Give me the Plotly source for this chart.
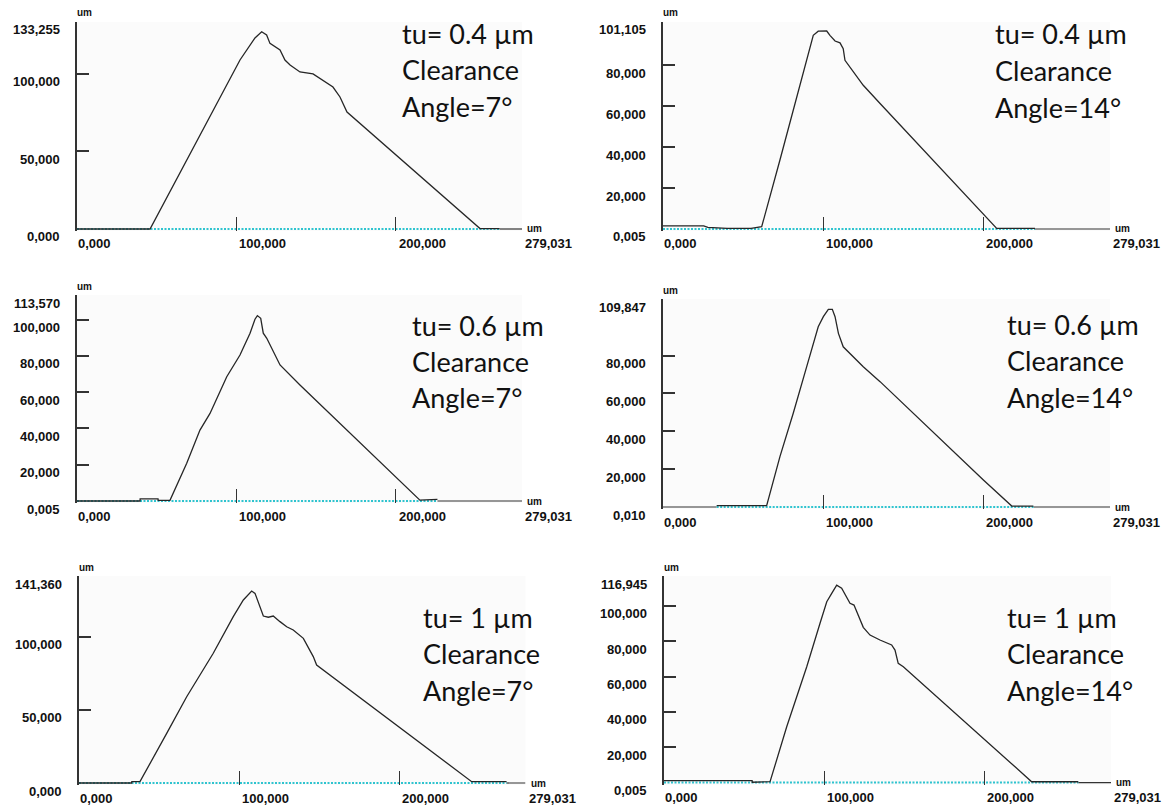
import plotly.graph_objects as go

W, H = 1171, 810
X_END = 279.031

# ---------------- data ----------------
# Panel A : tu = 0.4 um, clearance angle 7 deg
a_x = [0, 45.8, 102.2, 107.4, 111.6, 115.8, 118.9, 121.0, 124.1, 127.3, 130.4, 133.6,
       139.8, 148.0, 160.5, 164.9, 169.3, 252.7, 265.0]
a_y = [0, 0, 108.8, 116.3, 123.0, 127.0, 124.9, 119.5, 117.3, 115.2, 108.8, 105.6,
       101.1, 99.8, 91.4, 85.0, 75.3, 0.3, 0.3]
# Panel B : tu = 0.4 um, 14 deg
b_x = [0, 25.4, 28.0, 40.0, 55.0, 61.6, 73.0, 83.4, 90.7, 93.8, 96.9, 102.2, 104.2,
       107.4, 110.5, 112.5, 113.6, 116.7, 125.0, 135.5, 199.9, 208.3, 232.2]
b_y = [1.5, 1.5, 0.8, 0.3, 0.3, 1.1, 33.7, 64.5, 85.7, 94.6, 96.6, 96.7, 94.6,
       91.8, 90.9, 88.1, 82.4, 79.2, 70.2, 61.3, 7.7, 0.3, 0.3]
# Panel C : tu = 0.6 um, 7 deg
c_x = [0, 39.5, 39.6, 50.8, 50.9, 58.3, 68.8, 77.1, 83.4, 93.9, 102.2, 108.5, 111.6,
       113.1, 115.2, 116.8, 119.0, 127.3, 139.8, 215.0, 226.0]
c_y = [0.005, 0.005, 1.2, 1.2, 0.3, 0.4, 20.8, 39.1, 48.3, 68.5, 80.5, 92.5, 100.2,
       102.2, 100.7, 92.5, 89.7, 75.0, 64.0, 0.5, 0.9]
# Panel D : tu = 0.6 um, 14 deg
d_x = [33.5, 64.7, 73.0, 81.3, 89.7, 96.9, 100.1, 103.2, 105.7, 107.4, 109.5, 112.5,
       125.0, 135.5, 200.0, 217.7, 231.2]
d_y = [0.7, 0.7, 26.6, 49.5, 74.1, 95.2, 100.5, 104.4, 104.4, 100.5, 91.7, 84.6,
       74.1, 66.2, 14.3, 0.5, 0.5]
# Panel E : tu = 1 um, 7 deg
e_x = [0, 32.9, 33.0, 38.1, 54.8, 67.3, 83.9, 96.4, 102.7, 107.9, 110.0, 113.1, 115.2,
       118.3, 121.4, 125.6, 129.8, 133.9, 140.2, 146.4, 148.5, 245.4, 267.2]
e_y = [0, 0, 0.9, 0.9, 33.9, 58.9, 88.6, 113.6, 125.0, 131.1, 129.5, 120.4, 114.0,
       113.2, 114.0, 110.2, 106.7, 104.5, 98.8, 86.3, 80.6, 0.9, 0.9]
# Panel F : tu = 1 um, 14 deg
f_x = [0, 55.0, 55.1, 66.2, 76.6, 89.1, 97.4, 101.6, 104.7, 107.8, 110.9, 114.0, 116.1,
       118.6, 121.3, 124.4, 128.6, 134.8, 142.1, 144.2, 146.2, 149.4, 229.5, 258.6]
f_y = [1.1, 1.1, 0.2, 0.5, 31.6, 65.6, 90.2, 102.4, 107.1, 111.8, 110.0, 105.2, 101.5,
       100.5, 94.9, 87.9, 83.5, 80.7, 77.9, 75.0, 67.5, 65.6, 0.5, 0.5]

y_min = [0.0, 0.005, 0.005, 0.010, 0.0, 0.005]
y_max = [133.255, 101.105, 113.570, 109.847, 141.360, 116.945]
y_ticks = [
    [50, 100],
    [20, 40, 60, 80],
    [20, 40, 60, 80, 100],
    [20, 40, 60, 80],
    [50, 100],
    [20, 40, 60, 80, 100],
]
x_ticks = [0, 100, 200, X_END]
x_tick_text = ["0,000", "100,000", "200,000", "279,031"]
tu_labels = ["tu= 0.4 µm", "tu= 0.4 µm", "tu= 0.6 µm", "tu= 0.6 µm", "tu= 1 µm", "tu= 1 µm"]
angle_labels = ["Angle=7°", "Angle=14°", "Angle=7°", "Angle=14°", "Angle=7°", "Angle=14°"]

curves = [(a_x, a_y), (b_x, b_y), (c_x, c_y), (d_x, d_y), (e_x, e_y), (f_x, f_y)]

# ---------------- layout geometry (pixels) ----------------
boxes = [
    (77, 522, 22, 229),
    (663, 1110, 22, 229),
    (77, 522, 295, 501),
    (663, 1110, 299, 507),
    (79, 525.5, 576, 783),
    (664, 1111, 576, 782.6),
]
text_pos = [
    (400, 33, 37),
    (993, 33, 37.5),
    (410, 325, 36),
    (1005, 324, 36.5),
    (421, 617, 36.5),
    (1005, 617, 36.5),
]
PAD = 2.0  # px of room below the baseline so the baseline strokes are not clipped


def fmt(v):
    return f"{v:,.3f}".replace(",", " ").replace(".", ",").replace(" ", "")


fig = go.Figure()
ann = []
LBL = dict(family="Liberation Sans", size=13, color="#111111", weight="bold")
UM = dict(family="Liberation Sans", size=10, color="#111111", weight="bold")
TXT = dict(family="Lato", size=27, color="#111111")
AX = "#333333"

for i, ((cx, cy), (l, r, t, b)) in enumerate(zip(curves, boxes)):
    n = "" if i == 0 else str(i + 1)
    xa, ya = "x" + n, "y" + n
    ymn, ymx = y_min[i], y_max[i]
    d = PAD * (ymx - ymn) / (b - t)

    # black x-axis baseline outside the measured range
    fig.add_trace(go.Scatter(x=[0, cx[0], None, cx[-1], X_END], y=[ymn, ymn, None, ymn, ymn],
                             mode="lines", line=dict(color=AX, width=1.2),
                             xaxis=xa, yaxis=ya, showlegend=False, hoverinfo="skip"))
    # cyan reference line over the measured range
    fig.add_trace(go.Scatter(x=[cx[0], cx[-1]], y=[ymn, ymn], mode="lines",
                             line=dict(color="#2fc4cf", width=2, dash="2px,1.5px"),
                             xaxis=xa, yaxis=ya, showlegend=False, hoverinfo="skip"))
    # profile
    fig.add_trace(go.Scatter(x=cx, y=cy, mode="lines",
                             line=dict(color="#262626", width=1.3),
                             xaxis=xa, yaxis=ya, showlegend=False))

    fig.layout["xaxis" + n] = dict(
        domain=[l / W, r / W], range=[0, X_END], anchor=ya,
        showline=False,
        ticks="inside", ticklen=12 + PAD, tickwidth=1, tickcolor=AX,
        tickvals=x_ticks[1:], showticklabels=False, showgrid=False, zeroline=False,
        fixedrange=True)
    yt = [ymn] + y_ticks[i] + [ymx]
    fig.layout["yaxis" + n] = dict(
        domain=[1 - (b + PAD) / H, 1 - t / H], range=[ymn - d, ymx], anchor=xa,
        showline=True, linecolor=AX, linewidth=1.5,
        ticks="inside", ticklen=12, tickwidth=1.5, tickcolor=AX,
        tickvals=yt[1:], showticklabels=False, showgrid=False, zeroline=False,
        fixedrange=True)

    for v in yt:
        ann.append(dict(xref=xa, yref=ya, x=0, y=v, text=fmt(v), showarrow=False,
                        xanchor="right", yanchor="middle", xshift=-15, yshift=-8,
                        font=LBL))
    for v, s in zip(x_ticks, x_tick_text):
        ann.append(dict(xref=xa, yref=ya, x=v, y=ymn, text=s, showarrow=False,
                        xanchor="left", yanchor="middle", xshift=-1 if v == 0 else 1,
                        yshift=-15, font=LBL))
    ann.append(dict(xref=xa, yref=ya, x=0, y=ymx, text="um", showarrow=False,
                    xanchor="left", yanchor="middle", xshift=-2, yshift=9, font=UM))
    ann.append(dict(xref=xa, yref=ya, x=X_END, y=ymn, text="um", showarrow=False,
                    xanchor="left", yanchor="middle", xshift=3, yshift=0, font=UM))

    tx, ty, step = text_pos[i]
    for k, s in enumerate([tu_labels[i], "Clearance", angle_labels[i]]):
        ann.append(dict(xref="paper", yref="paper", x=tx / W, y=1 - (ty + k * step) / H,
                        text=s, showarrow=False, xanchor="left", yanchor="middle",
                        font=TXT))

fig.update_layout(width=W, height=H, margin=dict(l=0, r=0, t=0, b=0),
                  paper_bgcolor="white", plot_bgcolor="#fbfbfb",
                  annotations=ann, showlegend=False)

fig.write_html("out.html", config={"displayModeBar": False})
